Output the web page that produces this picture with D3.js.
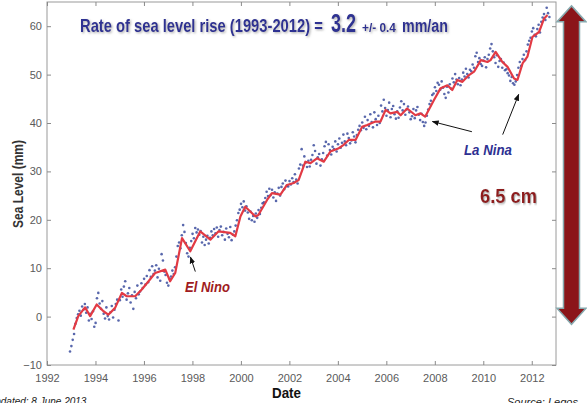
<!DOCTYPE html>
<html>
<head>
<meta charset="utf-8">
<script src="https://cdn.jsdelivr.net/npm/d3@7"></script>
<style>
  body { margin: 0; background: #fff; }
  svg { display: block; font-family: "Liberation Sans", Arial, sans-serif; }
</style>
</head>
<body>
<div id="chart"></div>
<script>
// smoothed curve (red)
const smoothYears = [1993.09, 1993.29, 1993.57, 1993.78, 1994.05, 1994.33, 1994.53, 1994.81, 1995.09, 1995.29,
  1995.64, 1995.91, 1996.19, 1996.46, 1996.88, 1997.08, 1997.29, 1997.57, 1997.91, 1998.32,
  1998.74, 1999.07, 1999.56, 1999.77, 1999.98, 2000.18, 2000.60, 2000.72, 2001.08, 2001.28,
  2001.63, 2001.90, 2002.18, 2002.38, 2002.66, 2002.87, 2003.14, 2003.42, 2003.69, 2004.04,
  2004.24, 2004.45, 2004.73, 2005.00, 2005.21, 2005.55, 2005.76, 2005.97, 2006.17, 2006.45,
  2006.59, 2006.86, 2007.20, 2007.41, 2007.60, 2007.96, 2008.24, 2008.52, 2008.72, 2008.93,
  2009.14, 2009.41, 2009.62, 2009.90, 2010.17, 2010.30, 2010.51, 2010.79, 2011.00, 2011.27,
  2011.41, 2011.62, 2011.82, 2012.03, 2012.30, 2012.51, 2012.65];
const smoothLevels = [-2.7, 0.1, 1.9, 0.1, 2.5, 1.1, 0.4, 1.8, 4.9, 4.2,
  4.2, 5.6, 7.3, 9.0, 9.7, 7.3, 9.0, 16.2, 13.5, 17.6,
  15.9, 17.6, 17.3, 16.6, 20.7, 22.7, 20.7, 21.0, 24.1, 25.5,
  25.2, 27.2, 27.6, 28.2, 32.0, 31.7, 32.7, 32.0, 34.1, 34.8,
  35.5, 36.5, 36.5, 39.2, 39.6, 40.3, 40.3, 42.7, 42.0, 42.3,
  41.6, 43.0, 41.6, 42.0, 41.3, 44.7, 47.2, 47.8, 46.8, 48.9,
  48.5, 49.9, 50.6, 53.0, 52.6, 53.0, 54.7, 52.6, 51.6, 49.2,
  48.9, 52.3, 53.7, 57.8, 58.8, 61.6, 62.3];

// altimetry measurements (blue), ~18 per year starting at dotStart
const dotStart = 1992.95;
const dotsPerYear = 18;
const dots1993 = [-7.2, -6.1, -4.8, -3.6, -1.5, -0.3, 0.5, 1.2, 0.2, 2.1, 1.4, 2.6, 0.8, 1.9, -0.8, 0.6, -0.5, 1.1];
const dots1994 = [-2.1, -1.3, 3.8, 4.9, 2.7, 1.6, 3.2, 0.6, -0.4, 1.9, 0.1, -0.6, 0.9, 2.2, -0.2, 1.4, 2.6, 3.5];
const dots1995 = [-0.8, 3.4, 5.6, 4.1, 6.2, 7.3, 3.5, 4.8, 5.9, 2.9, 4.4, 1.6, 5.1, 3.8, 6.4, 4.6, 5.2, 6.9];
const dots1996 = [5.9, 7.8, 6.6, 8.4, 7.1, 9.6, 8.2, 10.4, 8.8, 9.5, 10.6, 8.1, 9.9, 7.4, 12.9, 11.6, 9.3, 8.6];
const dots1997 = [7.0, 6.4, 7.8, 8.3, 9.5, 8.8, 10.2, 12.4, 14.6, 15.3, 14.1, 16.8, 18.9, 17.5, 15.2, 13.1, 12.4, 14.2];
const dots1998 = [15.6, 17.1, 16.2, 18.3, 17.4, 18.0, 16.9, 17.7, 15.3, 16.5, 14.8, 15.9, 16.7, 15.1, 16.3, 17.6, 16.8, 18.1];
const dots1999 = [17.2, 18.4, 16.5, 17.9, 18.6, 16.8, 17.5, 15.9, 18.2, 17.1, 16.4, 18.5, 15.8, 16.9, 17.6, 18.8, 19.9, 21.4];
const dots2000 = [22.1, 23.3, 22.6, 23.8, 21.9, 22.8, 21.5, 20.2, 21.7, 19.9, 20.8, 19.6, 21.3, 20.4, 22.0, 21.2, 22.5, 23.4];
const dots2001 = [23.6, 24.5, 25.8, 24.9, 26.4, 25.1, 26.2, 24.6, 25.7, 23.9, 25.4, 26.6, 25.0, 26.8, 27.5, 26.3, 28.1, 27.0];
const dots2002 = [26.9, 28.0, 27.3, 28.6, 27.8, 29.4, 28.3, 27.5, 30.6, 31.4, 34.6, 31.2, 33.1, 31.8, 30.9, 32.2, 31.0, 32.4];
const dots2003 = [33.4, 35.4, 34.2, 31.6, 32.9, 33.6, 31.2, 32.5, 33.8, 35.2, 36.1, 33.3, 35.6, 34.4, 33.5, 35.1, 34.6, 36.2];
const dots2004 = [34.1, 35.6, 36.8, 34.9, 35.9, 37.6, 36.2, 35.4, 37.8, 36.9, 35.8, 36.4, 38.1, 37.2, 36.0, 37.5, 38.6, 39.4];
const dots2005 = [38.5, 40.1, 39.0, 41.3, 38.7, 40.6, 39.4, 41.8, 40.2, 39.1, 42.2, 40.8, 39.6, 41.5, 40.0, 43.6, 42.4, 44.8];
const dots2006 = [43.1, 41.5, 42.7, 44.2, 41.2, 42.9, 43.5, 41.8, 40.9, 42.4, 41.1, 43.2, 44.5, 42.6, 43.9, 41.7, 42.8, 43.4];
const dots2007 = [42.2, 40.8, 41.4, 42.9, 41.0, 42.6, 43.3, 41.7, 40.6, 41.9, 40.2, 39.4, 40.1, 41.5, 42.8, 43.9, 44.6, 45.8];
const dots2008 = [46.1, 47.4, 46.6, 48.3, 47.9, 46.9, 48.6, 47.3, 46.0, 45.2, 47.5, 46.3, 48.0, 47.1, 49.2, 48.4, 50.1, 49.0];
const dots2009 = [48.0, 49.3, 47.8, 49.0, 50.4, 49.6, 51.2, 50.1, 49.4, 51.0, 50.7, 52.1, 51.4, 53.8, 54.5, 52.6, 53.4, 52.2];
const dots2010 = [51.8, 52.9, 53.6, 51.5, 53.2, 54.1, 55.4, 56.3, 54.8, 53.6, 52.4, 54.0, 51.6, 52.8, 53.2, 51.4, 52.5, 50.9];
const dots2011 = [51.1, 50.3, 49.8, 48.7, 49.5, 48.2, 47.9, 48.6, 49.9, 51.4, 52.6, 51.8, 53.2, 54.1, 53.0, 54.8, 56.2, 57.0];
const dots2012 = [57.6, 58.9, 59.6, 58.2, 57.9, 59.4, 60.3, 58.7, 60.9, 61.8, 62.5, 61.3, 63.8, 62.7, 61.9];
const dotYears = [dots1993, dots1994, dots1995, dots1996, dots1997, dots1998, dots1999, dots2000, dots2001, dots2002,
  dots2003, dots2004, dots2005, dots2006, dots2007, dots2008, dots2009, dots2010, dots2011, dots2012];

const xTicks = [1992, 1994, 1996, 1998, 2000, 2002, 2004, 2006, 2008, 2010, 2012];
const yTicks = [-10, 0, 10, 20, 30, 40, 50, 60];

// annotation anchors in data units [year, mm]
const laNinaArrows = [
  { from: [2009.53, 38.2], to: [2007.9, 40.3] },
  { from: [2010.8, 37.6], to: [2011.46, 45.9] }
];
const elNinoArrow = { from: [1998.12, 9.3], to: [1997.92, 12.3] };
const riseRange = [-1.6, 64.2]; // 6.5 cm span drawn by the big arrow

const width = 587, height = 403;
const margin = { top: 2, right: 31, bottom: 38, left: 47 };
const blue = '#2e3192';
const darkRed = '#8e1b1e';

const svg = d3.select('#chart').append('svg')
  .attr('width', width)
  .attr('height', height);

const defs = svg.append('defs');
const shadow = defs.append('filter').attr('id', 'shadow')
  .attr('x', '-10%').attr('y', '-20%').attr('width', '130%').attr('height', '160%');
shadow.append('feDropShadow')
  .attr('dx', 1.2).attr('dy', 1.2).attr('stdDeviation', 0.8)
  .attr('flood-color', '#999').attr('flood-opacity', 0.8);

const arrowHead = defs.append('marker').attr('id', 'head')
  .attr('viewBox', '0 0 10 10').attr('refX', 9).attr('refY', 5)
  .attr('markerWidth', 7).attr('markerHeight', 7).attr('orient', 'auto')
  .attr('markerUnits', 'userSpaceOnUse');
arrowHead.append('path').attr('d', 'M0,1 L10,5 L0,9 Z').attr('fill', '#111');

// squeeze a text horizontally to a given width (the source uses a narrow face)
function fit(sel, tx, ty, w, extra) {
  const natural = sel.node().getComputedTextLength();
  sel.attr('transform', `translate(${tx},${ty})${extra || ''} scale(${w / natural},1)`);
  return sel;
}

const x = d3.scaleLinear().domain([1992, 2013]).range([margin.left, width - margin.right]);
const y = d3.scaleLinear().domain([-10, 65]).range([height - margin.bottom, margin.top]);

const chart = svg.append('g');

// frame
chart.append('rect')
  .attr('x', x(1992)).attr('y', y(65))
  .attr('width', x(2013) - x(1992)).attr('height', y(-10) - y(65))
  .attr('fill', 'none').attr('stroke', '#9a9a9a').attr('stroke-width', 1);

function styleAxis(g) {
  g.select('.domain').remove();
  g.selectAll('line').attr('stroke', '#8a8a8a');
  g.selectAll('text').attr('fill', '#5a5a5a').attr('font-size', 11)
    .attr('font-family', '"Liberation Sans", Arial, sans-serif');
}

chart.append('g').attr('transform', `translate(0,${y(-10)})`)
  .call(d3.axisBottom(x).tickValues(xTicks).tickFormat(d3.format('d')).tickSize(-4).tickPadding(9))
  .call(styleAxis);
chart.append('g').attr('transform', `translate(0,${y(65)})`)
  .call(d3.axisTop(x).tickValues(xTicks).tickFormat('').tickSize(-4))
  .call(styleAxis);
chart.append('g').attr('transform', `translate(${x(1992)},0)`)
  .call(d3.axisLeft(y).tickValues(yTicks).tickSize(-4).tickPadding(5))
  .call(styleAxis);
chart.append('g').attr('transform', `translate(${x(2013)},0)`)
  .call(d3.axisRight(y).tickValues(yTicks).tickFormat('').tickSize(-4))
  .call(styleAxis);

// measurement dots
const dots = [];
dotYears.forEach((vals, yi) => {
  vals.forEach((v, i) => dots.push({ t: dotStart + yi + i / dotsPerYear, v }));
});
chart.append('g').selectAll('circle')
  .data(dots)
  .join('circle')
  .attr('cx', d => x(d.t))
  .attr('cy', d => y(d.v))
  .attr('r', 1.3)
  .attr('fill', '#3b4c9e')
  .attr('opacity', 0.85);

// smoothed line
const smooth = smoothYears.map((t, i) => ({ t, v: smoothLevels[i] }));
chart.append('path')
  .datum(smooth)
  .attr('fill', 'none')
  .attr('stroke', '#e23a44')
  .attr('stroke-width', 2.2)
  .attr('stroke-linejoin', 'round')
  .attr('d', d3.line().x(d => x(d.t)).y(d => y(d.v)));

// annotation arrows
laNinaArrows.concat([elNinoArrow]).forEach(a => {
  chart.append('line')
    .attr('x1', x(a.from[0])).attr('y1', y(a.from[1]))
    .attr('x2', x(a.to[0])).attr('y2', y(a.to[1]))
    .attr('stroke', '#111').attr('stroke-width', 1)
    .attr('marker-end', 'url(#head)');
});

fit(chart.append('text')
  .attr('font-size', 15).attr('font-weight', 'bold').attr('font-style', 'italic')
  .attr('fill', blue)
  .text('La Nina'), 464, 155, 48);

fit(chart.append('text')
  .attr('font-size', 15).attr('font-weight', 'bold').attr('font-style', 'italic')
  .attr('fill', '#a01c22')
  .text('El Nino'), 185, 292, 45);

// big double arrow for the 6.5 cm rise
const ax0 = 557, ax1 = 586, sx0 = 563.5, sx1 = 579.5, headLen = 16;
const arrowTop = y(riseRange[1]), arrowBot = y(riseRange[0]);
const mid = (ax0 + ax1) / 2;
svg.append('path')
  .attr('d', `M${mid},${arrowTop} L${ax1},${arrowTop + headLen} L${sx1},${arrowTop + headLen} L${sx1},${arrowBot - headLen}
    L${ax1},${arrowBot - headLen} L${mid},${arrowBot} L${ax0},${arrowBot - headLen} L${sx0},${arrowBot - headLen}
    L${sx0},${arrowTop + headLen} L${ax0},${arrowTop + headLen} Z`)
  .attr('fill', '#8b1519')
  .attr('stroke', '#86a8ad')
  .attr('stroke-width', 1.5)
  .attr('stroke-linejoin', 'miter');

fit(svg.append('text')
  .attr('font-size', 21).attr('font-weight', 'bold')
  .attr('fill', darkRed).attr('filter', 'url(#shadow)')
  .text('6.5 cm'), 480, 203, 57);

// title
const title = svg.append('g').attr('fill', blue).attr('font-weight', 'bold').attr('filter', 'url(#shadow)');
fit(title.append('text').attr('font-size', 18).text('Rate of sea level rise (1993-2012) ='), 80, 32, 243);
fit(title.append('text').attr('font-size', 25).text('3.2'), 331, 32, 25);
fit(title.append('text').attr('font-size', 13).text('+/- 0.4'), 362, 32, 34);
fit(title.append('text').attr('font-size', 18).text('mm/an'), 402, 32, 46);

// axis titles
fit(svg.append('text')
  .attr('text-anchor', 'middle')
  .attr('font-size', 14).attr('font-weight', 'bold').attr('fill', '#333')
  .text('Sea Level (mm)'), 23, 184, 88, ' rotate(-90)');

fit(svg.append('text')
  .attr('font-size', 15).attr('font-weight', 'bold').attr('fill', '#111')
  .text('Date'), 272, 398, 29);

// footer notes (cut by the page edge, as in the source)
svg.append('text')
  .attr('x', -12).attr('y', 405)
  .attr('font-size', 10).attr('font-style', 'italic').attr('fill', '#222')
  .text('Updated: 8 June 2013');

svg.append('text')
  .attr('x', 507).attr('y', 406)
  .attr('font-size', 11).attr('font-style', 'italic').attr('fill', '#222')
  .text('Source: Legos');
</script>
</body>
</html>
